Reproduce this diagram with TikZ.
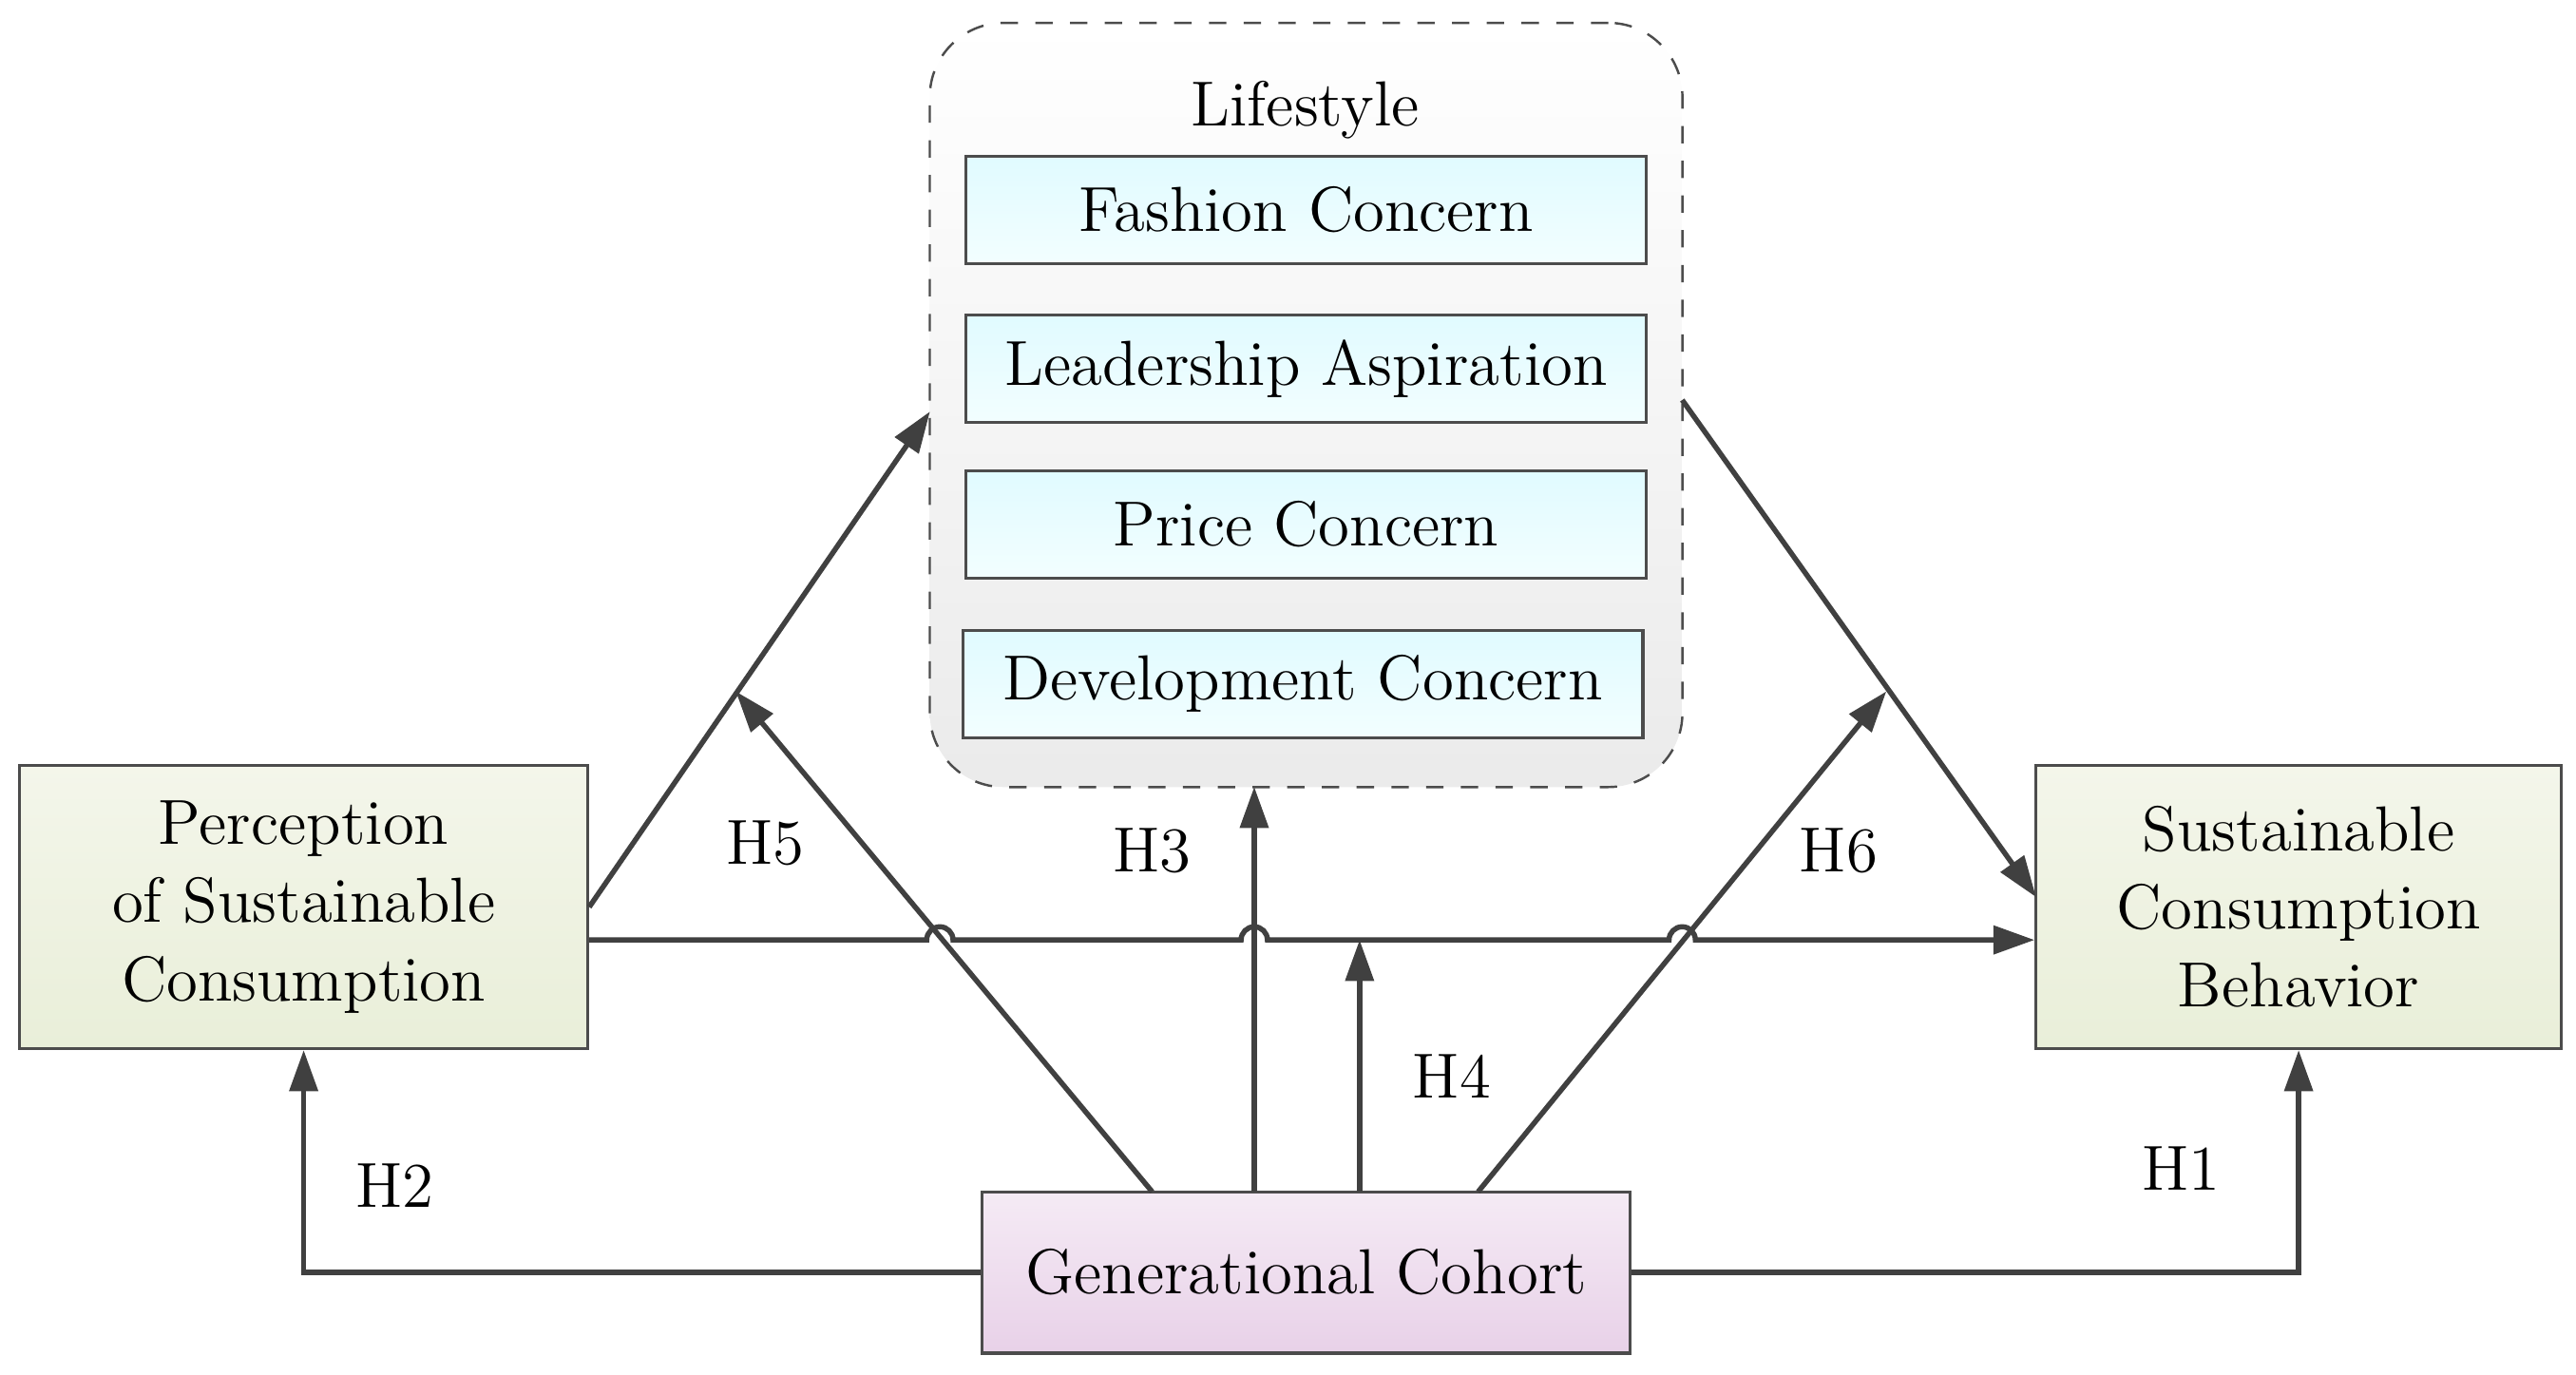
\documentclass[tikz,border=0pt]{standalone}
\usetikzlibrary{arrows.meta}
\begin{document}
\begin{tikzpicture}[x=0.01cm,y=-0.01cm,
  every node/.style={font=\fontsize{11}{13.5}\selectfont, text=black},
  conn/.style={draw=black!75, line width=0.9pt, -{Triangle[length=0.25cm,width=0.17cm]}},
  plain/.style={draw=black!75, line width=0.9pt},
  inbox/.style={draw=black!70, line width=0.5pt, top color=blue!15!cyan!12, bottom color=blue!5!cyan!5, minimum width=4.13cm, minimum height=0.65cm, inner sep=0pt},
  sidebox/.style={draw=black!70, line width=0.5pt, top color=green!10!olive!8, bottom color=green!15!olive!15, minimum width=3.45cm, minimum height=1.72cm, align=center, inner sep=0pt},
  lbl/.style={font=\fontsize{11}{13}\selectfont}]
\useasboundingbox (0,0) rectangle (1565,835);
\node[draw=black!70, dashed, rounded corners=0.45cm, top color=white, bottom color=black!8, minimum width=4.57cm, minimum height=4.64cm] (life) at (793.5,246) {};
\node (lifet) at (793,67) {Lifestyle};
\node[inbox] (fc) at (793.5,127.5) {Fashion Concern};
\node[inbox] (la) at (793.5,224) {Leadership Aspiration};
\node[inbox] (pc) at (793.5,318.5) {Price Concern};
\node[inbox] (dc) at (791.5,415.5) {Development Concern};
\node[sidebox] (perc) at (184.5,551) {Perception\\of Sustainable\\Consumption};
\node[sidebox, minimum width=3.19cm] (sust) at (1396.5,551) {Sustainable\\Consumption\\Behavior};
\node[draw=black!70, line width=0.5pt, top color=violet!8, bottom color=violet!18, minimum width=3.93cm, minimum height=0.98cm] (gen) at (793.5,773) {Generational Cohort};
\coordinate (l1) at (565,250);
\coordinate (m5) at (447,420);
\coordinate (m6) at (1146,420);
\coordinate (s1) at (1237,545);
\coordinate (lr) at (1022,243);
\draw[conn] (perc.east) -- (l1);
\draw[conn] (lr) -- (s1);
\draw[conn] ([yshift=-0.2cm]perc.east) -- (563,571) arc (180:360:8) -- (754,571) arc (180:360:8) -- (1014,571) arc (180:360:8) -- ([yshift=-0.2cm]sust.west);
\draw[conn] (700,724) -- (m5);
\draw[conn] (762,724) -- (762,478);
\draw[conn] (826,724) -- (826,571);
\draw[conn] (898,724) -- (m6);
\draw[conn] (gen.west) -| (perc.south);
\draw[conn] (gen.east) -| (sust.south);
\node[lbl] (h5) at (465,512) {H5};
\node[lbl] (h3) at (700,517) {H3};
\node[lbl] (h6) at (1117,517) {H6};
\node[lbl] (h4) at (882,654) {H4};
\node[lbl] (h2) at (240,720) {H2};
\node[lbl] (h1) at (1325,710) {H1};
\end{tikzpicture}
\end{document}
